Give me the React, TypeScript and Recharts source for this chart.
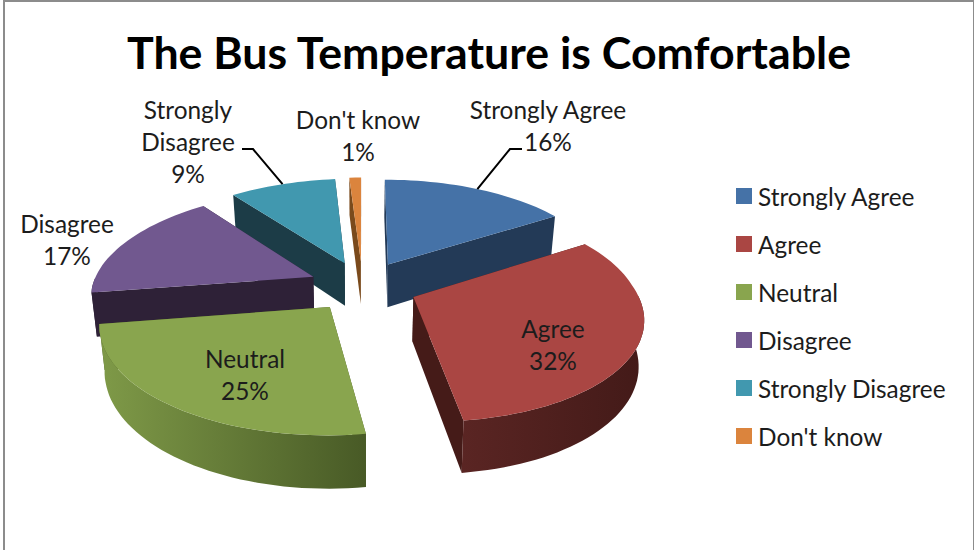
import { PieChart, Pie, Legend } from 'recharts'

const CATEGORIES = ['Strongly Agree', 'Agree', 'Neutral', 'Disagree', 'Strongly Disagree', "Don't know"]
const VALUES = [16, 32, 25, 17, 9, 1]
const COLORS = ['#4572a7', '#aa4643', '#89a54e', '#71588f', '#4198af', '#db843d']
const SIDE_COLORS = ['#233a57', '#451b18', '#4a5a26', '#2e2137', '#1c3c47', '#7a4a1c']
const WALL_LEFT = ['#233a57', '#5a2523', '#7f9a48', '#2e2137', '#1c3c47', '#7a4a1c']
const WALL_RIGHT = ['#233a57', '#431a18', '#485a26', '#2e2137', '#1c3c47', '#7a4a1c']

// sectors are painted in this order, so it runs counter-clockwise from Strongly Agree
const DRAW_ORDER = [0, 5, 4, 3, 2, 1]
const START_ANGLE = 90 - (360 * VALUES[0]) / 100

const FONT = 'Lato, Carlito, sans-serif'
const TEXT = '#1c1c1c'
const LABEL_SIZE = 24.4

const CX = 362.5
const CY = 286
const RADIUS = 222
const TILT = 0.464
const PERSPECTIVE = 0.146
const EXPLODE = 0.245
const DEPTH = 44
const BOTTOM_SHRINK = 0.98
const NEAR_SHEAR = 8.5
const LEFT_DROP = 3

const tableData = DRAW_ORDER.map(i => ({ name: CATEGORIES[i], value: VALUES[i] }))

const LABELS: Record<string, { x: number; y: number; lines: string[]; leader?: [number, number][] }> = {
  'Strongly Agree': { x: 548, y: 119, lines: ['Strongly Agree'], leader: [[510, 149], [522, 149]] },
  Agree: { x: 553, y: 338, lines: ['Agree'] },
  Neutral: { x: 245, y: 368, lines: ['Neutral'] },
  Disagree: { x: 67, y: 233, lines: ['Disagree'] },
  'Strongly Disagree': { x: 188, y: 119, lines: ['Strongly', 'Disagree'], leader: [[253, 149], [242, 149]] },
  "Don't know": { x: 358, y: 129, lines: ["Don't know"] },
}

const rad = (deg: number) => (deg * Math.PI) / 180

// ground plane point (unit radius, y pointing away) to screen
function project(cx: number, cy: number, r: number, gx: number, gy: number, bottom = false) {
  const w = 1 + PERSPECTIVE * gy
  const k = bottom ? BOTTOM_SHRINK : 1
  return {
    x: cx + (k * r * gx) / w + NEAR_SHEAR * Math.max(-gy, 0),
    y: cy - (r * TILT * gy) / w + (bottom ? DEPTH / w : 0) + LEFT_DROP * Math.max(-gx, 0),
  }
}

const toPath = (pts: { x: number; y: number }[]) =>
  'M' + pts.map(p => `${p.x.toFixed(1)},${p.y.toFixed(1)}`).join('L') + 'Z'

function renderSlice(props: any) {
  const { cx, cy, outerRadius, startAngle, endAngle, name } = props
  const idx = CATEGORIES.indexOf(name)
  const mid = rad((startAngle + endAngle) / 2)
  const ox = EXPLODE * Math.cos(mid)
  const oy = EXPLODE * Math.sin(mid)

  const lo = Math.min(startAngle, endAngle)
  const hi = Math.max(startAngle, endAngle)
  const steps = Math.max(2, Math.ceil((hi - lo) / 2))
  const arc: number[] = []
  for (let s = 0; s <= steps; s++) arc.push(lo + ((hi - lo) * s) / steps)

  const at = (deg: number, bottom = false) =>
    project(cx, cy, outerRadius, ox + Math.cos(rad(deg)), oy + Math.sin(rad(deg)), bottom)
  const apexTop = project(cx, cy, outerRadius, ox, oy)
  const apexBottom = project(cx, cy, outerRadius, ox, oy, true)

  const side = (deg: number) => toPath([apexTop, at(deg), at(deg, true), apexBottom])
  const top = toPath([apexTop, ...arc.map(a => at(a))])

  // only the near part of the rim faces the viewer
  const nearArc = arc.filter(a => Math.sin(rad(a)) <= 0.02)
  const wall =
    nearArc.length > 1
      ? toPath([...nearArc.map(a => at(a)), ...[...nearArc].reverse().map(a => at(a, true))])
      : null
  const gradId = `wall-${idx}`

  return (
    <g>
      <defs>
        <linearGradient id={gradId} x1="0" y1="0" x2="1" y2="0">
          <stop offset="0%" stopColor={WALL_LEFT[idx]} />
          <stop offset="100%" stopColor={WALL_RIGHT[idx]} />
        </linearGradient>
      </defs>
      <path d={side(lo)} fill={SIDE_COLORS[idx]} />
      <path d={side(hi)} fill={SIDE_COLORS[idx]} />
      {wall && <path d={wall} fill={`url(#${gradId})`} />}
      <path d={top} fill={COLORS[idx]} />
    </g>
  )
}

function renderLabel(props: any) {
  const { name, value, cx, cy, outerRadius, startAngle, endAngle } = props
  const spec = LABELS[name]
  if (!spec) return null
  const mid = rad((startAngle + endAngle) / 2)
  const from = project(cx, cy, outerRadius, (1 + EXPLODE) * Math.cos(mid), (1 + EXPLODE) * Math.sin(mid))
  const lines = [...spec.lines, `${value}%`]
  return (
    <g>
      {spec.leader && (
        <polyline
          points={[[from.x, from.y], ...spec.leader].map(p => (Array.isArray(p) ? p.join(',') : '')).join(' ')}
          fill="none"
          stroke="#000"
          strokeWidth={2}
        />
      )}
      <text x={spec.x} y={spec.y} textAnchor="middle" fontFamily={FONT} fontSize={LABEL_SIZE} fill={TEXT}>
        {lines.map((line, i) => (
          <tspan key={line} x={spec.x} y={spec.y + i * 32}>
            {line}
          </tspan>
        ))}
      </text>
    </g>
  )
}

function LegendBox() {
  return (
    <div style={{ fontFamily: FONT, fontSize: LABEL_SIZE, color: TEXT }}>
      {CATEGORIES.map((name, i) => (
        <div key={name} style={{ display: 'flex', alignItems: 'center', height: 48 }}>
          <span style={{ width: 16, height: 16, background: COLORS[i], marginRight: 6, flex: 'none' }} />
          <span style={{ whiteSpace: 'nowrap' }}>{name}</span>
        </div>
      ))}
    </div>
  )
}

export default function App() {
  return (
    <div style={{ position: 'absolute', left: 0, top: 0, width: 974, height: 550, background: '#fff', overflow: 'hidden' }}>
      <div style={{ position: 'absolute', left: 3, top: 0, width: 968, height: 560, border: '2px solid #8c8c8c', borderRightWidth: 1 }} />
      <div
        style={{
          position: 'absolute',
          left: 0,
          width: 978,
          top: 27,
          textAlign: 'center',
          fontFamily: FONT,
          fontWeight: 700,
          fontSize: 44.7,
          lineHeight: '50px',
          color: '#000',
        }}
      >
        The Bus Temperature is Comfortable
      </div>
      <PieChart width={974} height={550} margin={{ top: 0, right: 0, bottom: 0, left: 0 }}>
        <Pie
          data={tableData}
          dataKey="value"
          nameKey="name"
          cx={CX}
          cy={CY}
          innerRadius={0}
          outerRadius={RADIUS}
          startAngle={START_ANGLE}
          endAngle={START_ANGLE + 360}
          stroke="none"
          shape={renderSlice}
          label={renderLabel}
          labelLine={false}
          isAnimationActive={false}
        />
        <Legend
          layout="vertical"
          content={<LegendBox />}
          wrapperStyle={{ position: 'absolute', left: 736, top: 172, width: 235, bottom: 'auto', right: 'auto' }}
        />
      </PieChart>
    </div>
  )
}
